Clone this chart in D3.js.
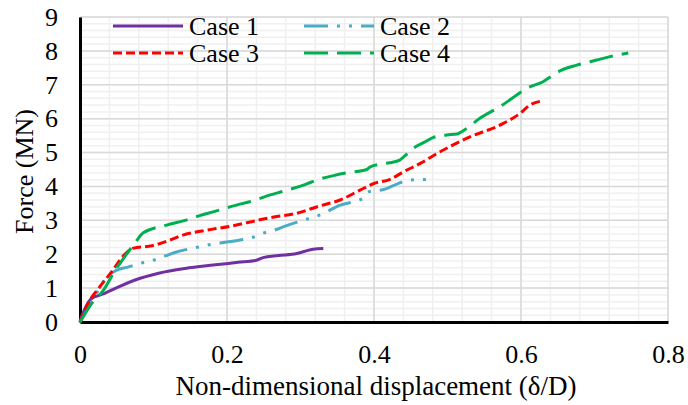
<!DOCTYPE html>
<html>
<head>
<meta charset="utf-8">
<script src="https://cdn.jsdelivr.net/npm/d3@7"></script>
<style>
  body { margin: 0; background: #fff; }
</style>
</head>
<body>
<div id="chart"></div>
<script>
// force vs non-dimensional displacement
const case1 = [[0,0],[0.003,0.2],[0.008,0.45],[0.016,0.70],[0.025,0.78],[0.035,0.86],[0.048,0.99],[0.075,1.24],[0.107,1.44],[0.143,1.58],[0.181,1.68],[0.215,1.76],[0.240,1.82],[0.249,1.90],[0.270,1.96],[0.295,2.02],[0.305,2.08],[0.317,2.15],[0.331,2.17]];
const case2 = [[0,0],[0.012,0.45],[0.025,0.94],[0.035,1.29],[0.048,1.51],[0.065,1.62],[0.082,1.73],[0.098,1.81],[0.116,1.95],[0.129,2.05],[0.163,2.22],[0.181,2.30],[0.2,2.36],[0.218,2.42],[0.235,2.50],[0.249,2.62],[0.267,2.73],[0.283,2.86],[0.302,2.99],[0.331,3.20],[0.354,3.45],[0.372,3.55],[0.385,3.65],[0.392,3.84],[0.415,3.92],[0.431,4.07],[0.449,4.19],[0.482,4.21]];
const case3 = [[0,0],[0.011,0.55],[0.027,1.04],[0.043,1.48],[0.061,2.0],[0.073,2.18],[0.098,2.25],[0.120,2.40],[0.138,2.55],[0.181,2.74],[0.204,2.82],[0.227,2.93],[0.259,3.08],[0.295,3.21],[0.327,3.43],[0.354,3.6],[0.381,3.89],[0.399,4.08],[0.422,4.21],[0.44,4.43],[0.463,4.68],[0.48,4.9],[0.526,5.42],[0.576,5.86],[0.599,6.16],[0.612,6.40],[0.631,6.53]];
const case4 = [[0,0],[0.016,0.55],[0.032,0.94],[0.048,1.53],[0.061,1.93],[0.076,2.37],[0.086,2.63],[0.118,2.86],[0.143,3.0],[0.163,3.14],[0.181,3.25],[0.213,3.45],[0.231,3.55],[0.259,3.75],[0.277,3.86],[0.308,4.07],[0.322,4.19],[0.345,4.32],[0.363,4.40],[0.39,4.50],[0.395,4.58],[0.41,4.66],[0.435,4.78],[0.442,4.90],[0.453,5.12],[0.468,5.30],[0.481,5.45],[0.499,5.52],[0.513,5.55],[0.526,5.71],[0.544,6.01],[0.571,6.35],[0.612,6.94],[0.630,7.09],[0.644,7.29],[0.655,7.43],[0.676,7.58],[0.703,7.73],[0.721,7.83],[0.746,7.94]];

const seriesNames = ['Case 1', 'Case 2', 'Case 3', 'Case 4'];
const xTicks = [0, 0.2, 0.4, 0.6, 0.8];
const yTicks = [0, 1, 2, 3, 4, 5, 6, 7, 8, 9];

const FONT = 'Liberation Serif';
const width = 688, height = 405;
const margin = { top: 17, right: 20, bottom: 83, left: 80 };
const w = width - margin.left - margin.right;
const h = height - margin.top - margin.bottom;

const svg = d3.select('#chart').append('svg')
  .attr('width', width)
  .attr('height', height)
  .attr('font-family', FONT);

const g = svg.append('g')
  .attr('transform', `translate(${margin.left},${margin.top})`);

const x = d3.scaleLinear().domain([0, 0.8]).range([0, w]);
const y = d3.scaleLinear().domain([0, 9]).range([h, 0]);

// minor grid
g.append('g').selectAll('line')
  .data(d3.range(0, 9.001, 0.2))
  .enter().append('line')
  .attr('x1', 0).attr('x2', w)
  .attr('y1', d => y(d)).attr('y2', d => y(d))
  .attr('stroke', '#f0f0f0').attr('stroke-width', 1.5);
g.append('g').selectAll('line')
  .data(d3.range(0, 0.8001, 0.04))
  .enter().append('line')
  .attr('y1', 0).attr('y2', h)
  .attr('x1', d => x(d)).attr('x2', d => x(d))
  .attr('stroke', '#f0f0f0').attr('stroke-width', 1.5);

// major grid
g.append('g').selectAll('line')
  .data(yTicks)
  .enter().append('line')
  .attr('x1', 0).attr('x2', w)
  .attr('y1', d => y(d)).attr('y2', d => y(d))
  .attr('stroke', '#d9d9d9').attr('stroke-width', 1.5);
g.append('g').selectAll('line')
  .data(xTicks)
  .enter().append('line')
  .attr('y1', 0).attr('y2', h)
  .attr('x1', d => x(d)).attr('x2', d => x(d))
  .attr('stroke', '#d9d9d9').attr('stroke-width', 1.5);

// axes
const xAxis = g.append('g')
  .attr('transform', `translate(0,${h})`)
  .call(d3.axisBottom(x).tickValues(xTicks).tickFormat(d3.format('')).tickSize(0).tickPadding(23));
const yAxis = g.append('g')
  .call(d3.axisLeft(y).tickValues(yTicks).tickSize(0).tickPadding(22));
[xAxis, yAxis].forEach(a => {
  a.attr('font-family', FONT).attr('font-size', 26);
  a.select('.domain').attr('stroke', '#000').attr('stroke-width', 3);
  a.selectAll('text').attr('fill', '#000');
});

// lines
const line = d3.line().x(d => x(d[0])).y(d => y(d[1])).curve(d3.curveMonotoneX);
const styles = [
  { color: '#7030a0', dash: null },
  { color: '#4bacc6', dash: '24,9,3,9,3,9' },
  { color: '#ff0000', dash: '9,4' },
  { color: '#00b050', dash: '24,9' }
];
[case1, case2, case3, case4].forEach((data, i) => {
  g.append('path')
    .datum(data)
    .attr('fill', 'none')
    .attr('stroke', styles[i].color)
    .attr('stroke-width', 3)
    .attr('stroke-dasharray', styles[i].dash)
    .attr('d', line);
});

// legend
const legendPos = [[33, 9], [224, 9], [33, 36], [224, 36]];
seriesNames.forEach((name, i) => {
  const lg = g.append('g').attr('transform', `translate(${legendPos[i][0]},${legendPos[i][1]})`);
  lg.append('line')
    .attr('x1', 0).attr('x2', 70)
    .attr('y1', 0).attr('y2', 0)
    .attr('stroke', styles[i].color)
    .attr('stroke-width', 3)
    .attr('stroke-dasharray', styles[i].dash);
  lg.append('text')
    .attr('x', 76)
    .attr('y', 9)
    .attr('font-family', FONT)
    .attr('font-size', 26)
    .text(name);
});

// axis titles
svg.append('text')
  .attr('x', 376)
  .attr('y', 395)
  .attr('text-anchor', 'middle')
  .attr('font-family', FONT)
  .attr('font-size', 27)
  .text('Non-dimensional displacement (δ/D)');

svg.append('text')
  .attr('transform', `translate(33,${margin.top + h / 2 + 2}) rotate(-90)`)
  .attr('text-anchor', 'middle')
  .attr('font-family', FONT)
  .attr('font-size', 26)
  .text('Force (MN)');
</script>
</body>
</html>
